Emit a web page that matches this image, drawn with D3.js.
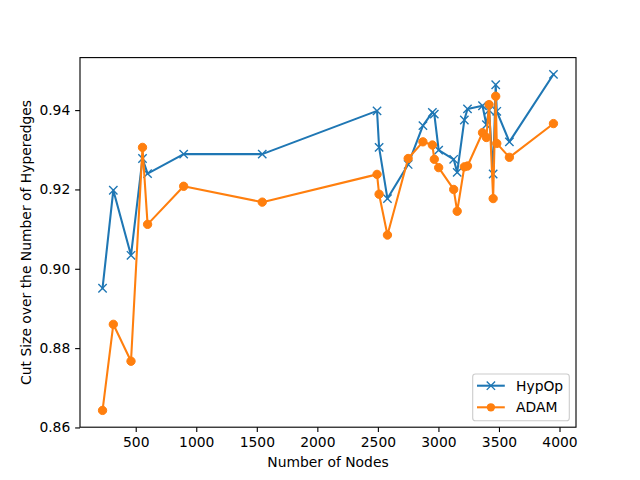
<!DOCTYPE html>
<html>
<head>
<meta charset="utf-8">
<script src="https://cdn.jsdelivr.net/npm/d3@7"></script>
<style>
html, body { margin: 0; padding: 0; background: #fff; }
svg { display: block; font-family: "DejaVu Sans", sans-serif; }
</style>
</head>
<body>
<svg id="chart" width="640" height="480"></svg>
<script>
const nodes = [226, 315, 461, 556, 598, 896, 1545, 2493, 2510, 2579, 2750, 2872, 2950, 2966, 3002, 3126, 3155, 3214, 3240, 3364, 3396, 3418, 3452, 3473, 3482, 3586, 3950];
const hypop = [0.8951, 0.9198, 0.9034, 0.9278, 0.9240, 0.9289, 0.9289, 0.9398, 0.9306, 0.9177, 0.9263, 0.9361, 0.9394, 0.9390, 0.9299, 0.9276, 0.9243, 0.9375, 0.9403, 0.9411, 0.9363, 0.9400, 0.9239, 0.9464, 0.9397, 0.9320, 0.9490];
const adam  = [0.8643, 0.8860, 0.8767, 0.9306, 0.9112, 0.9208, 0.9168, 0.9238, 0.9188, 0.9085, 0.9278, 0.9320, 0.9312, 0.9276, 0.9255, 0.9200, 0.9145, 0.9257, 0.9259, 0.9343, 0.9331, 0.9414, 0.9177, 0.9435, 0.9316, 0.9281, 0.9366];
const xTicks = [500, 1000, 1500, 2000, 2500, 3000, 3500, 4000];
const yTicks = [0.86, 0.88, 0.90, 0.92, 0.94];
const seriesNames = ["HypOp", "ADAM"];
const colors = ["#1f77b4", "#ff7f0e"];

const svg = d3.select("#chart");
const L = 80, R = 576, T = 57.6, B = 427.2;

function padded(arr) {
  const mn = d3.min(arr), mx = d3.max(arr), m = (mx - mn) * 0.05;
  return [mn - m, mx + m];
}
const x = d3.scaleLinear().domain(padded(nodes)).range([L, R]);
const y = d3.scaleLinear().domain(padded(hypop.concat(adam))).range([B, T]);

const fs = 13.89;
// axes
const xAxis = d3.axisBottom(x).tickValues(xTicks).tickFormat(d3.format("d")).tickSize(4.86).tickPadding(4.86);
const gx = svg.append("g").attr("transform", `translate(0,${B})`).call(xAxis);
const yAxis = d3.axisLeft(y).tickValues(yTicks).tickFormat(d3.format(".2f")).tickSize(4.86).tickPadding(4.86);
const gy = svg.append("g").attr("transform", `translate(${L},0)`).call(yAxis);
[gx, gy].forEach(g => {
  g.select(".domain").remove();
  g.selectAll(".tick line").attr("stroke", "#000").attr("stroke-width", 1.11);
  g.selectAll(".tick text").attr("fill", "#000").style("font-size", fs + "px").style("font-family", "DejaVu Sans");
});

// series
const data = [hypop, adam];
data.forEach((vals, si) => {
  const pts = nodes.map((n, i) => [n, vals[i]]);
  svg.append("path")
    .attr("d", d3.line().x(d => x(d[0])).y(d => y(d[1]))(pts))
    .attr("fill", "none").attr("stroke", colors[si]).attr("stroke-width", 2.08)
    .attr("stroke-linejoin", "round").attr("stroke-linecap", "square");
  const g = svg.append("g");
  if (si === 0) {
    const h = 4.17;
    pts.forEach(d => {
      const cx = x(d[0]), cy = y(d[1]);
      g.append("path").attr("d", `M${cx-h},${cy-h}L${cx+h},${cy+h}M${cx-h},${cy+h}L${cx+h},${cy-h}`)
        .attr("stroke", colors[si]).attr("stroke-width", 1.39).attr("fill", "none");
    });
  } else {
    g.selectAll("circle").data(pts).enter().append("circle")
      .attr("cx", d => x(d[0])).attr("cy", d => y(d[1])).attr("r", 4.17)
      .attr("fill", colors[si]).attr("stroke", colors[si]).attr("stroke-width", 1);
  }
});

// frame
svg.append("rect").attr("x", L).attr("y", T).attr("width", R - L).attr("height", B - T)
  .attr("fill", "none").attr("stroke", "#000").attr("stroke-width", 1.11);

// axis labels
svg.append("text").attr("x", (L + R) / 2).attr("y", 467).attr("text-anchor", "middle")
  .style("font-size", fs + "px").text("Number of Nodes");
svg.append("text").attr("transform", `translate(31,${(T + B) / 2}) rotate(-90)`).attr("text-anchor", "middle")
  .style("font-size", fs + "px").text("Cut Size over the Number of Hyperedges");

// legend
const lg = svg.append("g");
lg.append("rect").attr("x", 472.7).attr("y", 374).attr("width", 96.6).attr("height", 46.7)
  .attr("rx", 2.8).attr("fill", "#fff").attr("fill-opacity", 0.8).attr("stroke", "#cccccc").attr("stroke-width", 1.11);
seriesNames.forEach((name, i) => {
  const ly = 385.7 + i * 21.6;
  lg.append("line").attr("x1", 477).attr("x2", 504.8).attr("y1", ly).attr("y2", ly)
    .attr("stroke", colors[i]).attr("stroke-width", 2.08);
  const cx = 490.9;
  if (i === 0) {
    const h = 4.17;
    lg.append("path").attr("d", `M${cx-h},${ly-h}L${cx+h},${ly+h}M${cx-h},${ly+h}L${cx+h},${ly-h}`)
      .attr("stroke", colors[i]).attr("stroke-width", 1.39);
  } else {
    lg.append("circle").attr("cx", cx).attr("cy", ly).attr("r", 4.17).attr("fill", colors[i]);
  }
  lg.append("text").attr("x", 516).attr("y", ly).attr("dy", "0.36em")
    .style("font-size", fs + "px").text(name);
});
</script>
</body>
</html>
